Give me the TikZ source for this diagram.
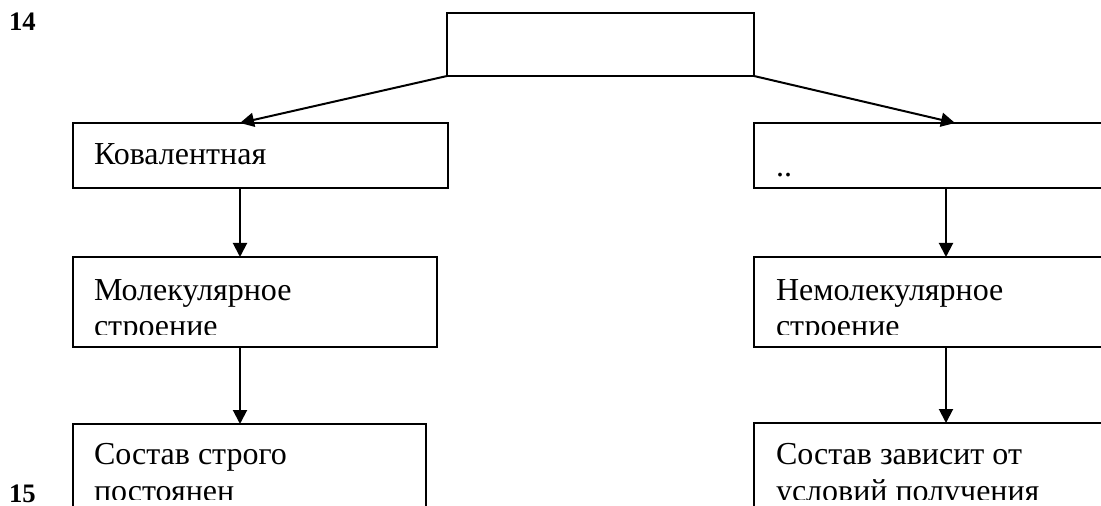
\documentclass[tikz,border=0pt]{standalone}
\usepackage{fontspec}
\setmainfont{Liberation Serif}
\usetikzlibrary{arrows.meta}

\tikzset{every picture/.style={line width=1.5pt}}
\tikzset{
	box/.style={draw, rectangle, inner sep=0pt, outer sep=0pt, anchor=north west},
	txt/.style={inner sep=0pt, anchor=base west, align=left, font=\fontsize{24}{27.75}\selectfont},
	num/.style={inner sep=0pt, anchor=base west, font=\fontsize{20}{22}\selectfont\bfseries},
	arr/.style={-{Triangle[length=10.5pt,width=10.5pt]}}}

\begin{document}
\begin{tikzpicture}[x=0.75pt,y=0.75pt,yscale=-1,xscale=1]
	\clip (0,0) rectangle (1101,506);

	%Shape: Rectangle
	\node[box, minimum width=230.25pt, minimum height=47.25pt] (top) at (447,13) {};
	%Shape: Rectangle
	\node[box, minimum width=281.25pt, minimum height=48.75pt] (kov) at (73,123) {};
	\node[box, minimum width=273pt, minimum height=67.5pt] (mol) at (73,257) {};
	\node[box, minimum width=264.75pt, minimum height=87pt] (postoyan) at (73,424) {};
	%Shape: Rectangle
	\node[box, minimum width=289.5pt, minimum height=48.75pt] (ion) at (754,123) {};
	\node[box, minimum width=289.5pt, minimum height=67.5pt] (nemol) at (754,257) {};
	\node[box, minimum width=289.5pt, minimum height=87.75pt] (zavis) at (754,423) {};

	\coordinate (lcol) at (240,0);
	\coordinate (rcol) at (946,0);
	\coordinate (rtip) at (955,0);

	%Straight Lines
	\draw[arr] (top.south west) -- (kov.north -| lcol);
	\draw[arr] (top.south east) -- (ion.north -| rtip);
	%Straight Lines
	\draw[arr] (kov.south -| lcol) -- (mol.north -| lcol);
	\draw[arr] (mol.south -| lcol) -- (postoyan.north -| lcol);
	\draw[arr] (ion.south -| rcol) -- (nemol.north -| rcol);
	\draw[arr] (nemol.south -| rcol) -- (zavis.north -| rcol);

	% Text Node
	\node[num] (n14) at (8,31) {14};
	\node[num] (n15) at (8,502) {15};
	% Text Node
	\node[txt] (tkov) at (93,165) {Ковалентная};
	\node[txt] (tion) at (775,177) {..};
	% base anchor sits on the last line
	\begin{scope}
		\clip (73,257) rectangle (437,335);
		\node[txt] (tmol) at (93,337) {Молекулярное\\строение};
	\end{scope}
	\begin{scope}
		\clip (754,257) rectangle (1101,335);
		\node[txt] (tnemol) at (775,337) {Немолекулярное\\строение};
	\end{scope}
	\begin{scope}
		\clip (73,424) rectangle (426,499);
		\node[txt] (tpostoyan) at (93,501) {Состав строго\\постоянен};
	\end{scope}
	\begin{scope}
		\clip (754,423) rectangle (1101,499);
		\node[txt] (tzavis) at (775,501) {Состав зависит от\\условий получения};
	\end{scope}

\end{tikzpicture}
\end{document}
